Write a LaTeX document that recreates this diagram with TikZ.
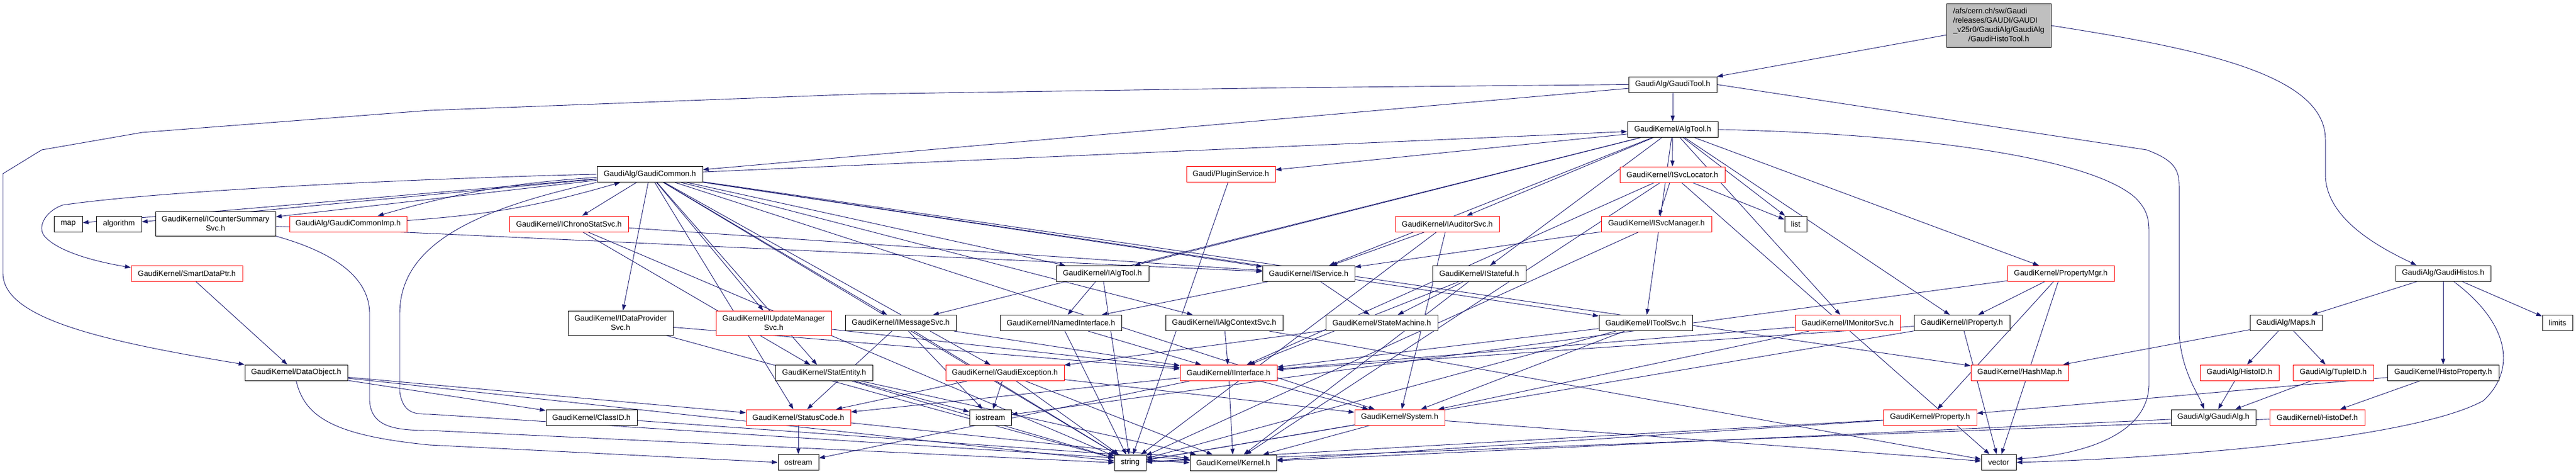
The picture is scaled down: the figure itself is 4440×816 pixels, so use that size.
\documentclass[tikz,border=0pt]{standalone}
\usepackage{fontspec}
\newfontfamily\dotfont{Liberation Sans}
\usetikzlibrary{arrows.meta,calc}
\definecolor{incblue}{HTML}{191970}
\definecolor{rootgray}{HTML}{BFBFBF}
\pgfdeclarelayer{bg}
\pgfsetlayers{bg,main}
\tikzset{
    hdr/.style={draw=black, fill=white, rectangle, inner sep=0pt, line width=1pt,
        minimum height=27, font={\dotfont\fontsize{13.3}{16}\selectfont}},
    hdrtrunc/.style={hdr, draw=red},
    hdrroot/.style={hdr, fill=rootgray},
    inc/.style={draw=incblue, line width=0.9pt, -{Triangle[length=10pt,width=7pt]}}
}
\begin{document}
\begin{tikzpicture}[x=1pt,y=-1pt]
                \useasboundingbox (0,0) rectangle (4440,816);
                % rows from top to bottom
                \node[hdrroot, minimum width=180, minimum height=74] (root) at (3445,44)
                    {\begin{tabular}{@{}l@{}}/afs/cern.ch/sw/Gaudi\\/releases/GAUDI/GAUDI\\\_v25r0/GaudiAlg/GaudiAlg\\\multicolumn{1}{@{}c@{}}{/GaudiHistoTool.h}\end{tabular}};
                \node[hdr, minimum width=152] (gtool) at (2883,145.5) {GaudiAlg/GaudiTool.h};
                \node[hdr, minimum width=156] (algtool) at (2883,223) {GaudiKernel/AlgTool.h};

                \node[hdr, minimum width=182] (gcommon) at (1120,300) {GaudiAlg/GaudiCommon.h};
                \node[hdrtrunc, minimum width=153] (plugin) at (2121.5,300) {Gaudi/PluginService.h};
                \node[hdrtrunc, minimum width=181] (svcloc) at (2882.5,300.5) {GaudiKernel/ISvcLocator.h};

                \node[hdr, minimum width=49] (map) at (117.5,385.5) {map};
                \node[hdr, minimum width=78] (algorithm) at (205,385.5) {algorithm};
                \node[hdr, minimum width=207, minimum height=42, align=center] (counter) at (371.5,385) {GaudiKernel/ICounterSummary\\Svc.h};
                \node[hdrtrunc, minimum width=202] (gcimp) at (600,385.5) {GaudiAlg/GaudiCommonImp.h};
                \node[hdrtrunc, minimum width=205] (chrono) at (980.5,385.5) {GaudiKernel/IChronoStatSvc.h};
                \node[hdrtrunc, minimum width=179] (auditor) at (2494.5,385.5) {GaudiKernel/IAuditorSvc.h};
                \node[hdrtrunc, minimum width=190] (svcmgr) at (2855,385.5) {GaudiKernel/ISvcManager.h};
                \node[hdr, minimum width=38] (list) at (3095,385.5) {list};

                \node[hdrtrunc, minimum width=192] (smartptr) at (322,470.5) {GaudiKernel/SmartDataPtr.h};
                \node[hdr, minimum width=160] (ialgtool) at (1900,471) {GaudiKernel/IAlgTool.h};
                \node[hdr, minimum width=159] (iservice) at (2255.5,471) {GaudiKernel/IService.h};
                \node[hdr, minimum width=161] (istateful) at (2549.5,471) {GaudiKernel/IStateful.h};
                \node[hdrtrunc, minimum width=184] (propmgr) at (3552,471) {GaudiKernel/PropertyMgr.h};
                \node[hdr, minimum width=164] (ghistos) at (4211,470.5) {GaudiAlg/GaudiHistos.h};

                \node[hdr, minimum width=181, minimum height=42, align=center] (dataprov) at (1069.5,556) {GaudiKernel/IDataProvider\\Svc.h};
                \node[hdrtrunc, minimum width=199, minimum height=42, align=center] (updmgr) at (1333.5,556) {GaudiKernel/IUpdateManager\\Svc.h};
                \node[hdr, minimum width=191] (msgsvc) at (1552.5,556) {GaudiKernel/IMessageSvc.h};
                \node[hdr, minimum width=209] (named) at (1828.5,556) {GaudiKernel/INamedInterface.h};
                \node[hdr, minimum width=202] (algctx) at (2110,556) {GaudiKernel/IAlgContextSvc.h};
                \node[hdr, minimum width=193] (statemach) at (2381.5,556) {GaudiKernel/StateMachine.h};
                \node[hdr, minimum width=161] (toolsvc) at (2836.5,556) {GaudiKernel/IToolSvc.h};
                \node[hdrtrunc, minimum width=181] (monitor) at (3184.5,556) {GaudiKernel/IMonitorSvc.h};
                \node[hdr, minimum width=165] (iprop) at (3381.5,556) {GaudiKernel/IProperty.h};
                \node[hdr, minimum width=124] (maps) at (3940,556) {GaudiAlg/Maps.h};
                \node[hdr, minimum width=52] (limits) at (4408,556) {limits};

                \node[hdr, minimum width=177] (dataobj) at (510.5,641.5) {GaudiKernel/DataObject.h};
                \node[hdr, minimum width=168] (statent) at (1420.5,642) {GaudiKernel/StatEntity.h};
                \node[hdrtrunc, minimum width=204] (gexcept) at (1732,642) {GaudiKernel/GaudiException.h};
                \node[hdrtrunc, minimum width=167] (iiface) at (2117.5,642) {GaudiKernel/IInterface.h};
                \node[hdrtrunc, minimum width=168] (hashmap) at (3481,641.5) {GaudiKernel/HashMap.h};
                \node[hdrtrunc, minimum width=136] (histoid) at (3860,641.5) {GaudiAlg/HistoID.h};
                \node[hdrtrunc, minimum width=139] (tupleid) at (4021.5,641.5) {GaudiAlg/TupleID.h};
                \node[hdr, minimum width=192] (histoprop) at (4211,641.5) {GaudiKernel/HistoProperty.h};

                \node[hdr, minimum width=157] (classid) at (1019.5,718.5) {GaudiKernel/ClassID.h};
                \node[hdrtrunc, minimum width=180] (statcode) at (1376,718.5) {GaudiKernel/StatusCode.h};
                \node[hdr, minimum width=72] (iostream) at (1707,718.5) {iostream};
                \node[hdrtrunc, minimum width=155] (system) at (2412.5,718.5) {GaudiKernel/System.h};
                \node[hdrtrunc, minimum width=161] (property) at (3326.5,718.5) {GaudiKernel/Property.h};
                \node[hdr, minimum width=146] (galg) at (3815,718.5) {GaudiAlg/GaudiAlg.h};
                \node[hdrtrunc, minimum width=164] (histodef) at (3994,718.5) {GaudiKernel/HistoDef.h};

                \node[hdr, minimum width=70] (ostream) at (1376,796) {ostream};
                \node[hdr, minimum width=54] (string) at (1948,796.5) {string};
                \node[hdr, minimum width=149] (kernel) at (2125.5,796.5) {GaudiKernel/Kernel.h};
                \node[hdr, minimum width=60] (vector) at (3445,796) {vector};

                \begin{pgfonlayer}{bg}
                    \fill[white] (0,0) rectangle (4440,816);
                    % straight includes
                    \foreach \a/\b in {root/gtool, gtool/gcommon, gtool/algtool,
                            algtool/ialgtool, algtool/iprop, algtool/iservice, algtool/svcloc, algtool/msgsvc,
                            algtool/toolsvc, algtool/propmgr, algtool/auditor, algtool/monitor, algtool/istateful,
                            algtool/plugin, algtool/list,
                            gcommon/algtool, gcommon/map, gcommon/algorithm, gcommon/counter, gcommon/chrono,
                            gcommon/dataprov, gcommon/updmgr, gcommon/msgsvc, gcommon/ialgtool,
                            gcommon/iservice, gcommon/algctx, gcommon/statent, gcommon/gexcept, gcommon/statcode,
                            gcommon/system, gcommon/hashmap, gcommon/toolsvc, gcommon/string,
                            counter/iservice, chrono/iservice, chrono/statent, chrono/string,
                            auditor/iservice, auditor/system, auditor/string,
                            svcmgr/iservice, svcmgr/string, plugin/string,
                            svcloc/svcmgr, svcloc/list, svcloc/iiface, svcloc/vector, svcloc/kernel,
                            smartptr/dataobj,
                            ialgtool/named, ialgtool/string, iservice/named, iservice/statemach,
                            istateful/statemach, istateful/iiface, istateful/kernel, statemach/gexcept,
                            toolsvc/iiface, toolsvc/system, toolsvc/string,
                            msgsvc/iostream, msgsvc/iiface, msgsvc/statcode, msgsvc/string,
                            named/iiface, named/string, algctx/iiface, algctx/vector,
                            dataprov/iiface, dataprov/string, updmgr/iiface,
                            statent/iostream, statent/string, statent/kernel,
                            gexcept/iostream, gexcept/string, gexcept/kernel, gexcept/statcode, gexcept/system,
                            iiface/statcode, iiface/kernel, iiface/system, iiface/ostream,
                            statcode/ostream, statcode/kernel, system/kernel, system/string, system/vector,
                            classid/kernel, dataobj/classid, dataobj/statcode, dataobj/string,
                            propmgr/iprop, propmgr/property, propmgr/vector, propmgr/iostream,
                            iprop/iiface, iprop/string, iprop/vector, monitor/iiface, monitor/system,
                            property/string, property/kernel,
                            ghistos/maps, ghistos/histoprop, ghistos/limits,
                            maps/histoid, maps/tupleid, maps/hashmap, histoid/galg, tupleid/galg,
                            histoprop/property, histoprop/histodef, histodef/string, galg/kernel} {
                            \draw[inc] (\a) -- (\b);
                        }

                    % cycle GaudiCommon <-> GaudiCommonImp
                    \draw[inc] (gcommon) to[bend right=6] (gcimp);
                    \draw[inc] (gcimp) to[bend right=6] (gcommon);

                    % long routed includes
                    \draw[inc] (gtool.west) -- (2220,151) -- (1480,162) -- (740,190) -- (245,228) -- (72,258)
                        -- (5,299) -- (5,470) .. controls (5,545) and (160,585) .. (dataobj.north west);
                    \draw[inc] (gcommon.west) .. controls (800,305) and (300,325) .. (108,353)
                        .. controls (75,365) and (62,395) .. (80,410)
                        .. controls (100,430) and (150,448) .. ($(smartptr.west)+(0,-10)$);
                    \draw[inc] (gtool.east) -- (3700,258) .. controls (3745,275) and (3756,290) .. (3756,320)
                        -- (3756,575) .. controls (3760,640) and (3790,680) .. ($(galg.north)+(-16,0)$);
                    \draw[inc] (root.east) .. controls (3800,85) and (4008,130) .. (4008,240) -- (4008,300)
                        .. controls (4008,380) and (4110,430) .. ($(ghistos.north)+(-46,0)$);
                    \draw[inc] (algtool.east) .. controls (3300,230) and (3600,270) .. (3680,340)
                        .. controls (3700,360) and (3704,375) .. (3704,400) -- (3704,660)
                        .. controls (3704,760) and (3560,785) .. ($(vector.east)+(0,-6)$);
                    \draw[inc] ($(ghistos.south)+(18,0)$) .. controls (4330,560) and (4335,640) .. (4280,690)
                        .. controls (4150,760) and (3700,790) .. (vector.east);
                    \draw[inc] (counter.south east) .. controls (560,430) and (637,470) .. (637,540) -- (637,690)
                        .. controls (640,735) and (680,741) .. (740,741) -- (string.west);
                    \draw[inc] (gcommon.south west) .. controls (820,360) and (689,420) .. (689,540) -- (689,675)
                        .. controls (695,712) and (715,713) .. (740,713) -- (kernel.west);
                    \draw[inc] (dataobj.south) .. controls (525,720) and (580,750) .. (740,766) -- (ostream.west);
                \end{pgfonlayer}

            \end{tikzpicture}
\end{document}
